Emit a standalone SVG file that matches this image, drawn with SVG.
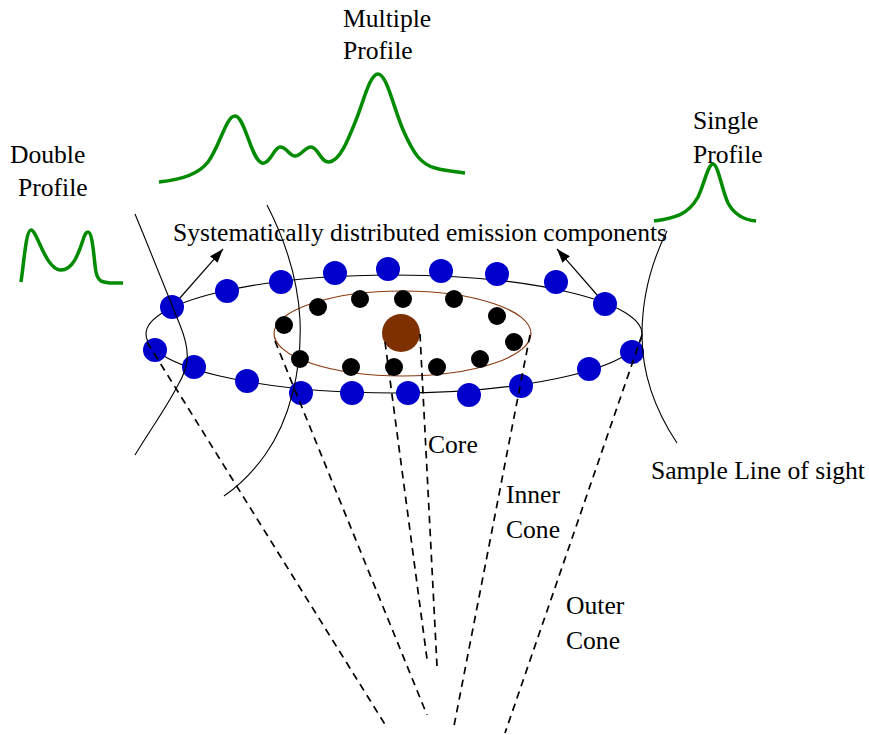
<svg xmlns="http://www.w3.org/2000/svg" width="869" height="735" viewBox="0 0 869 735">
  <style>
    text { font-family: "Liberation Serif", "Times New Roman", serif; font-size: 25.6px; fill: #000; }
    .ring { fill: none; stroke: #000; stroke-width: 1.1; }
    .inner { fill: none; stroke: #8a3a10; stroke-width: 1.2; }
    .blue { fill: #0000cc; }
    .black { fill: #000; }
    .core { fill: #7f3000; }
    .dash { fill: none; stroke: #000; stroke-width: 1.7; stroke-dasharray: 7.5 5.5; }
    .los { fill: none; stroke: #000; stroke-width: 1.1; }
    .prof { fill: none; stroke: #008b00; stroke-width: 3.5; stroke-linejoin: round; stroke-linecap: butt; }
    .arrow { fill: none; stroke: #000; stroke-width: 1.2; marker-end: url(#ah); }
  </style>
  <defs>
    <marker id="ah" viewBox="0 0 14 10" refX="14" refY="5" markerWidth="14" markerHeight="10" markerUnits="userSpaceOnUse" orient="auto">
      <path d="M0,0 L14,5 L0,10 z" fill="#000"/>
    </marker>
  </defs>

  <!-- emission rings -->
  <g id="outer-ring">
    <ellipse class="ring" cx="394" cy="334" rx="248" ry="59"/>
  </g>
  <g id="inner-ring">
    <ellipse class="inner" cx="402.5" cy="333.5" rx="128.5" ry="42.5"/>
  </g>

  <!-- arrows towards the caption -->
  <g id="connectors-arrows">
    <line class="arrow" x1="172" y1="307" x2="223" y2="249"/>
    <line class="arrow" x1="605" y1="304" x2="557" y2="249"/>
  </g>

  <!-- outer cone components -->
  <g id="outer-components">
    <circle class="blue" cx="172" cy="307" r="12"/>
    <circle class="blue" cx="227" cy="291" r="12"/>
    <circle class="blue" cx="281" cy="282" r="12"/>
    <circle class="blue" cx="335" cy="273" r="12"/>
    <circle class="blue" cx="388" cy="269" r="12"/>
    <circle class="blue" cx="441" cy="271" r="12"/>
    <circle class="blue" cx="497" cy="274" r="12"/>
    <circle class="blue" cx="556" cy="282" r="12"/>
    <circle class="blue" cx="605" cy="304" r="12"/>
    <circle class="blue" cx="155" cy="350" r="12"/>
    <circle class="blue" cx="194" cy="367" r="12"/>
    <circle class="blue" cx="247" cy="381" r="12"/>
    <circle class="blue" cx="301" cy="393" r="12"/>
    <circle class="blue" cx="352" cy="393" r="12"/>
    <circle class="blue" cx="408" cy="393" r="12"/>
    <circle class="blue" cx="469" cy="395" r="12"/>
    <circle class="blue" cx="521" cy="386" r="12"/>
    <circle class="blue" cx="589" cy="369" r="12"/>
    <circle class="blue" cx="632" cy="352" r="12"/>
  </g>

  <!-- inner cone components -->
  <g id="inner-components">
    <circle class="black" cx="284" cy="325" r="9"/>
    <circle class="black" cx="318" cy="307" r="9"/>
    <circle class="black" cx="360" cy="299" r="9"/>
    <circle class="black" cx="403" cy="299" r="9"/>
    <circle class="black" cx="454" cy="299" r="9"/>
    <circle class="black" cx="497" cy="316" r="9"/>
    <circle class="black" cx="514" cy="342" r="9"/>
    <circle class="black" cx="480" cy="359" r="9"/>
    <circle class="black" cx="437" cy="367" r="9"/>
    <circle class="black" cx="394" cy="367" r="9"/>
    <circle class="black" cx="351" cy="367" r="9"/>
    <circle class="black" cx="300" cy="359" r="9"/>
  </g>

  <!-- core -->
  <g id="core">
    <circle class="core" cx="401" cy="333" r="19"/>
  </g>

  <!-- cone boundaries -->
  <g id="connectors-cones">
    <line class="dash" x1="147" y1="342" x2="386" y2="726"/>
    <line class="dash" x1="275" y1="341" x2="427" y2="715"/>
    <line class="dash" x1="385" y1="342" x2="427" y2="659"/>
    <line class="dash" x1="420" y1="334" x2="437" y2="666"/>
    <line class="dash" x1="530" y1="335" x2="454" y2="726"/>
    <line class="dash" x1="642" y1="335" x2="505" y2="733"/>
  </g>

  <!-- lines of sight -->
  <g id="connectors-sightlines">
    <path class="los" d="M135,214 C152,255 170,300 180,325 C190,350 190,365 178,385 C165,410 150,430 135,455"/>
    <path class="los" d="M267,205 C285,240 298,280 300,320 C302,370 290,420 265,455 C252,473 240,485 224,496"/>
    <path class="los" d="M667,231 C650,265 642,300 642,335 C642,375 655,410 677,443"/>
  </g>

  <!-- profiles -->
  <g id="double-profile">
    <path class="prof" d="M21,282 C24,262 26,230 31,230 C37,230 45,268 60,270 C73,271 79,252 83,240 C85,234 86,232 88,232 C93,232 94,262 96,272 C98,281 101,282 110,283 L123,283"/>
    <text x="10" y="163">Double</text>
    <text x="18" y="196">Profile</text>
  </g>
  <g id="multiple-profile">
    <path class="prof" d="M159,182 C180,180 198,175 208,162 C220,146 226,116 235,116 C245,116 251,160 262,163 C270,165 274,147 280,147 C287,147 289,156 295,156 C301,156 305,147 311,147 C318,147 321,163 329,162 C340,161 348,140 356,120 C364,100 370,74 378,74 C387,74 394,110 404,132 C413,152 420,164 435,168 C446,171 458,172 465,173"/>
    <text x="343" y="27">Multiple</text>
    <text x="343" y="59">Profile</text>
  </g>
  <g id="single-profile">
    <path class="prof" d="M654,221 C675,218 688,215 698,197 C704,185 708,164 713,164 C718,164 722,190 728,203 C735,216 745,220 756,221"/>
    <text x="693" y="129">Single</text>
    <text x="693" y="163">Profile</text>
  </g>

  <!-- labels -->
  <g id="labels">
    <text x="173" y="241">Systematically distributed emission components</text>
    <text x="428" y="453">Core</text>
    <text x="506" y="503">Inner</text>
    <text x="506" y="538">Cone</text>
    <text x="566" y="614">Outer</text>
    <text x="566" y="649">Cone</text>
    <text x="651" y="479">Sample Line of sight</text>
  </g>
</svg>
